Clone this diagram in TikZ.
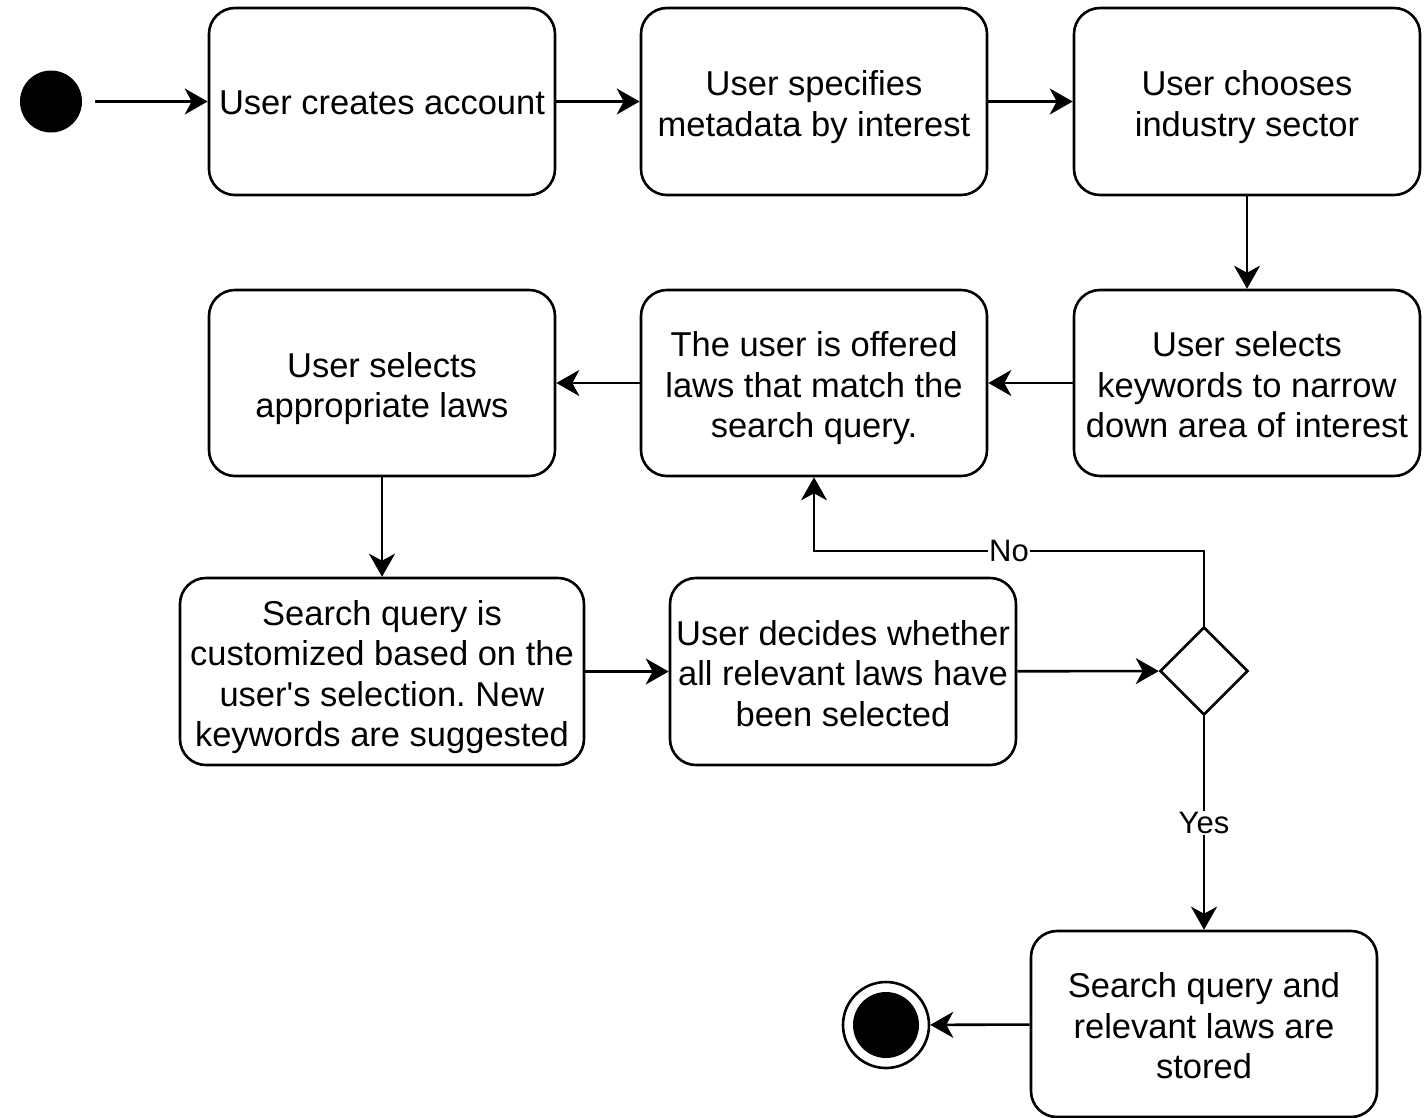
\documentclass[tikz,border=0pt]{standalone}
\usepackage{fontspec}
\setmainfont{Liberation Sans}
\usetikzlibrary{arrows.meta,shapes.geometric}
\frenchspacing
\newcommand\mytopstrut{\rule{0pt}{37pt}}
\newcommand\mybotstrut{\rule[-8.3pt]{0pt}{8.3pt}}
\tikzset{
  box/.style={draw, line width=2.6pt, rounded corners=26pt, minimum width=346pt,
    minimum height=187pt, align=center, inner sep=0pt,
    font=\fontsize{34.5}{40.5}\selectfont},
  arr/.style={line width=2.6pt, -{Stealth[length=23pt,width=26pt,inset=7pt]}},
  lbl/.style={fill=white, inner sep=1pt, font=\fontsize{31}{36}\selectfont},
  dec/.style={draw, diamond, line width=2.6pt, minimum width=88pt, minimum height=88pt, inner sep=0pt}
}
\begin{document}
\begin{tikzpicture}[x=1pt,y=-1pt]
\path[use as bounding box, fill=white] (0,0) rectangle (1426,1117);
\node[circle, fill=black, minimum size=62pt, inner sep=0pt] (start) at (51,101.5) {};
\node[box] (b1) at (382,101.5) {\rule{0pt}{34pt}User creates account\mybotstrut};
\node[box] (b2) at (814,101.5) {\mytopstrut User specifies\\metadata by interest\mybotstrut};
\node[box] (b3) at (1247,101.5) {\mytopstrut User chooses\\industry sector\mybotstrut};
\node[box, minimum height=186pt] (b4) at (1247,383) {\mytopstrut User selects\\keywords to narrow\\down area of interest\mybotstrut};
\node[box, minimum height=186pt] (b5) at (814,383) {\mytopstrut The user is offered\\laws that match the\\search query.\mybotstrut};
\node[box, minimum height=186pt] (b6) at (382,383) {\mytopstrut User selects\\appropriate laws\mybotstrut};
\node[box, minimum width=404pt] (b7) at (382,671.5) {\mytopstrut Search query is\\customized based on the\\user\textquotesingle s selection.\ New\\keywords are suggested\mybotstrut};
\node[box] (b8) at (843,671.5) {\mytopstrut User decides whether\\all relevant laws have\\been selected\mybotstrut};
\node[dec] (d) at (1204,671) {};
\node[box, minimum height=186pt] (b9) at (1204,1024) {\mytopstrut Search query and\\relevant laws are\\stored\mybotstrut};
\node[circle, draw, line width=2.6pt, minimum size=86pt, inner sep=0pt] (endo) at (886,1025) {};
\node[circle, fill=black, minimum size=66pt, inner sep=0pt] (endi) at (886,1025) {};
\coordinate (nocorner) at (1204,551);

\draw[arr, shorten <=13pt] (start) -- (b1);
\draw[arr] (b1) -- (b2);
\draw[arr] (b2) -- (b3);
\draw[arr] (b3) -- (b4);
\draw[arr] (b4) -- (b5);
\draw[arr] (b5) -- (b6);
\draw[arr] (b6) -- (b7);
\draw[arr] (b7) -- (b8);
\draw[arr] (b8) -- (d);
\draw[arr] (d.north) -- (nocorner) -- node[lbl, pos=0.5] {No} (nocorner -| b5.south) -- (b5.south);
\draw[arr] (d.south) -- node[lbl, pos=0.5] {Yes} (b9.north);
\draw[arr] (b9) -- (endo);
\end{tikzpicture}
\end{document}
